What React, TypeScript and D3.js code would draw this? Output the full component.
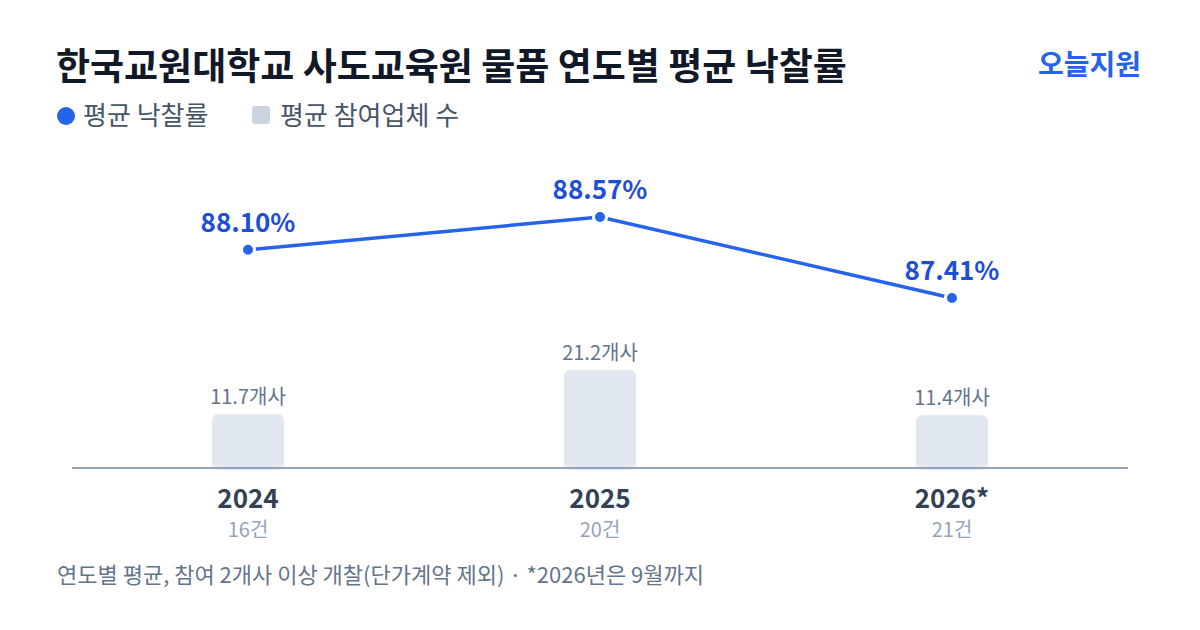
import React, { useEffect, useRef } from 'react';
import * as d3 from 'd3';

const years = ['2024', '2025', '2026*'];
const bidCounts = ['16건', '20건', '21건'];
const winRates = [88.10, 88.57, 87.41];
const bidders = [11.7, 21.2, 11.4];

const FONT = '"Noto Sans CJK KR", "Noto Sans", sans-serif';
const BLUE = '#2563eb';

const App: React.FC = () => {
  const svgRef = useRef<SVGSVGElement>(null);
  const width = 1200;
  const height = 630;
  const baseY = 468;

  useEffect(() => {
    if (!svgRef.current) return;
    const svg = d3.select(svgRef.current);
    svg.selectAll('*').remove();
    svg.style('font-family', FONT);

    // title + brand
    svg.append('text')
      .attr('x', 56).attr('y', 80)
      .attr('font-size', 37).attr('font-weight', 700)
      .attr('fill', '#111827')
      .text('한국교원대학교 사도교육원 물품 연도별 평균 낙찰률');

    svg.append('text')
      .attr('x', 1141).attr('y', 75)
      .attr('text-anchor', 'end')
      .attr('font-size', 28).attr('font-weight', 700)
      .attr('fill', BLUE)
      .text('오늘지원');

    // legend
    const legend = svg.append('g');
    legend.append('circle').attr('cx', 66).attr('cy', 116).attr('r', 9).attr('fill', BLUE);
    legend.append('text')
      .attr('x', 83).attr('y', 125)
      .attr('font-size', 26).attr('fill', '#475569')
      .text('평균 낙찰률');
    legend.append('rect')
      .attr('x', 252).attr('y', 106).attr('width', 18).attr('height', 18).attr('rx', 3)
      .attr('fill', '#cbd5e1');
    legend.append('text')
      .attr('x', 280).attr('y', 125)
      .attr('font-size', 26).attr('fill', '#475569')
      .text('평균 참여업체 수');

    // scales
    const x = d3.scalePoint<string>()
      .domain(years)
      .range([248, 952]);

    const yBar = d3.scaleLinear()
      .domain([0, d3.max(bidders) as number])
      .range([baseY, 370]);

    const yLine = d3.scaleLinear()
      .domain(d3.extent(winRates) as [number, number])
      .range([298, 217]);

    const barW = 72;

    // bars
    const bars = svg.append('g');
    bars.selectAll('rect')
      .data(bidders)
      .enter()
      .append('rect')
      .attr('x', (_, i) => (x(years[i]) as number) - barW / 2)
      .attr('y', d => yBar(d))
      .attr('width', barW)
      .attr('height', d => baseY - yBar(d) + 2)
      .attr('rx', 6)
      .attr('fill', '#e2e8f0');

    bars.selectAll('text')
      .data(bidders)
      .enter()
      .append('text')
      .attr('x', (_, i) => x(years[i]) as number)
      .attr('y', d => yBar(d) - 10)
      .attr('text-anchor', 'middle')
      .attr('font-size', 20)
      .attr('fill', '#64748b')
      .text(d => `${d.toFixed(1)}개사`);

    // axis line
    svg.append('line')
      .attr('x1', 72).attr('x2', 1128)
      .attr('y1', baseY).attr('y2', baseY)
      .attr('stroke', '#94a3b8')
      .attr('stroke-width', 2);

    // x labels
    const xl = svg.append('g');
    xl.selectAll('text.year')
      .data(years)
      .enter()
      .append('text')
      .attr('class', 'year')
      .attr('x', d => x(d) as number)
      .attr('y', 508)
      .attr('text-anchor', 'middle')
      .attr('font-size', 26).attr('font-weight', 700)
      .attr('fill', '#334155')
      .text(d => d);

    xl.selectAll('text.count')
      .data(bidCounts)
      .enter()
      .append('text')
      .attr('class', 'count')
      .attr('x', (_, i) => x(years[i]) as number)
      .attr('y', 537)
      .attr('text-anchor', 'middle')
      .attr('font-size', 20)
      .attr('fill', '#94a3b8')
      .text(d => d);

    // line
    const line = d3.line<number>()
      .x((_, i) => x(years[i]) as number)
      .y(d => yLine(d));

    svg.append('path')
      .datum(winRates)
      .attr('d', line)
      .attr('fill', 'none')
      .attr('stroke', BLUE)
      .attr('stroke-width', 3.5);

    const pts = svg.append('g');
    pts.selectAll('circle')
      .data(winRates)
      .enter()
      .append('circle')
      .attr('cx', (_, i) => x(years[i]) as number)
      .attr('cy', d => yLine(d))
      .attr('r', 6.5)
      .attr('fill', BLUE)
      .attr('stroke', '#fff')
      .attr('stroke-width', 3);

    pts.selectAll('text')
      .data(winRates)
      .enter()
      .append('text')
      .attr('x', (_, i) => x(years[i]) as number)
      .attr('y', d => yLine(d) - 18)
      .attr('text-anchor', 'middle')
      .attr('font-size', 26).attr('font-weight', 700)
      .attr('fill', '#1d4ed8')
      .text(d => `${d.toFixed(2)}%`);

    // footnote
    svg.append('text')
      .attr('x', 57).attr('y', 583)
      .attr('font-size', 22)
      .attr('fill', '#64748b')
      .text('연도별 평균, 참여 2개사 이상 개찰(단가계약 제외) · *2026년은 9월까지');
  }, []);

  return (
    <svg
      ref={svgRef}
      width={width}
      height={height}
      style={{ position: 'absolute', left: 0, top: 0, background: '#fff' }}
    />
  );
};

export default App;
